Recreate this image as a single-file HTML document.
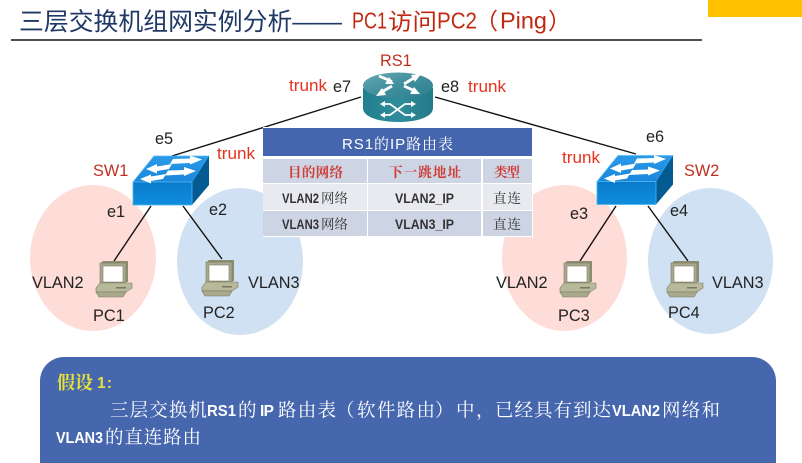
<!DOCTYPE html>
<html lang="zh">
<head>
<meta charset="utf-8">
<title>三层交换机组网实例分析</title>
<style>
html,body{margin:0;padding:0;background:#fff;width:802px;height:463px;overflow:hidden}
svg{display:block;filter:blur(.35px)}
.l{font-family:"Liberation Sans","Noto Sans CJK SC",sans-serif;font-size:16.3px;fill:#222}
.r{fill:#e5321f}
.d{fill:#bf2f22}
.tl{font-family:"Liberation Sans",sans-serif;font-size:13.5px;fill:#333;font-weight:bold}
.c{font-family:"Noto Serif CJK SC","Liberation Serif",serif;font-size:13.5px;fill:#333}
.h{font-family:"Noto Serif CJK SC","Liberation Serif",serif;font-size:13.5px;fill:#cf3b35;font-weight:bold}
.b{font-family:"Noto Serif CJK SC","Liberation Serif",serif;font-size:18.5px;fill:#fff}
.m{font-family:"Liberation Sans",sans-serif;font-size:15.5px;font-weight:bold;fill:#fff}
.ts{font-family:"Liberation Sans","Noto Sans CJK SC",sans-serif;font-size:23px;fill:#c0280f}
</style>
</head>
<body>
<svg width="802" height="463" viewBox="0 0 802 463" xmlns="http://www.w3.org/2000/svg">
<defs>
<linearGradient id="top" x1="0" y1="0" x2="0" y2="1"><stop offset="0" stop-color="#2a9be8"/><stop offset="1" stop-color="#1a86dc"/></linearGradient>
<linearGradient id="fr" x1="0" y1="0" x2="0" y2="1"><stop offset="0" stop-color="#0a7acb"/><stop offset="1" stop-color="#0f8ede"/></linearGradient>
<linearGradient id="rt" x1="0" y1="0" x2="1" y2="0"><stop offset="0" stop-color="#22808e"/><stop offset=".5" stop-color="#2f8d9b"/><stop offset="1" stop-color="#237a88"/></linearGradient>
<linearGradient id="rs" x1="0" y1="0" x2="1" y2="1"><stop offset="0" stop-color="#6aa8b4"/><stop offset=".5" stop-color="#3f8e9c"/><stop offset="1" stop-color="#2c8090"/></linearGradient>
<g id="sw">
<polygon points="0,26 59,26 76,0 21,0" fill="url(#top)" stroke="#5cbcf2" stroke-width=".8"/>
<polygon points="59,26 76,0 76,29 59,49" fill="#045a92"/>
<rect x="0" y="26" width="59" height="23" fill="url(#fr)" stroke="#4fb6ef" stroke-width=".8"/>
<g fill="#fff" stroke="none">
<polygon points="40,3 57,2.500 57,-.5 69,3.500 57,8.500 57,7 37,8"/>
<polygon points="13,13 24,8 24,10.500 39,8 36,13 24,15 24,17.500"/>
<polygon points="35,14.500 51,14 51,11 63,15 51,20 51,18.500 32,19.500"/>
<polygon points="7,23 18,18.500 18,20.500 33,18 30,23 18,25 18,27.500"/>
</g>
</g>
<g id="pc">
<polygon points="4,3 7,0 32,0 32,21 4,21" fill="#8e8e72"/>
<rect x="4" y="2" width="26" height="20" fill="#a9a98e" stroke="#77775f" stroke-width=".6"/>
<rect x="7" y="5" width="20" height="16" fill="#fff" stroke="#7d7d66" stroke-width=".6"/>
<polygon points="0,27 4,22 36,22 36,27 30,31 0,31" fill="#b8b89a" stroke="#7b7b62" stroke-width=".6"/>
<polygon points="0,31 30,31 27,36 3,36" fill="#a9a98c" stroke="#7b7b62" stroke-width=".6"/>
<rect x="20" y="26" width="10" height="1.500" fill="#777760"/>
</g>
</defs>

<!-- title -->
<rect x="708" y="0" width="94" height="17" fill="#ffc000"/>
<text x="19" y="30" textLength="323" lengthAdjust="spacingAndGlyphs" font-family="'Liberation Sans','Noto Sans CJK SC',sans-serif" font-size="24.500" fill="#1f3864">三层交换机组网实例分析——</text>
<text class="ts" x="352" y="28.500" textLength="35" lengthAdjust="spacingAndGlyphs">PC1</text>
<text class="ts" x="388" y="29.500" textLength="49" lengthAdjust="spacingAndGlyphs">访问</text>
<text class="ts" x="437" y="28.500" textLength="40" lengthAdjust="spacingAndGlyphs">PC2</text>
<text class="ts" x="475" y="29">&#xFF08;</text>
<text class="ts" x="500" y="28.500" textLength="47" lengthAdjust="spacingAndGlyphs">Ping</text>
<text class="ts" x="548" y="29">&#xFF09;</text>
<rect x="11" y="39.200" width="691" height="1.600" fill="#222"/>

<!-- VLAN ellipses -->
<ellipse cx="93" cy="258" rx="63" ry="73" fill="#fedcd8"/>
<ellipse cx="240" cy="261.500" rx="63" ry="73.500" fill="#d0e1f4"/>
<ellipse cx="564.500" cy="258" rx="62.500" ry="73" fill="#fedcd8"/>
<ellipse cx="710.500" cy="261" rx="62.500" ry="73" fill="#d0e1f4"/>

<!-- links -->
<g stroke="#111" stroke-width="1.400" fill="none">
<line x1="361" y1="97" x2="172" y2="156"/>
<line x1="435" y1="97" x2="636" y2="154"/>
<line x1="151" y1="206" x2="114" y2="261"/>
<line x1="183" y1="206" x2="222" y2="259"/>
<line x1="616" y1="206" x2="580" y2="261"/>
<line x1="648" y1="206" x2="688" y2="261"/>
</g>

<!-- router -->
<path d="M363 88 V108 C363 117 379 122 398 122 C417 122 433 117 433 108 V88 Z" fill="url(#rt)"/>
<ellipse cx="398" cy="85.500" rx="35" ry="13" fill="url(#rs)"/>
<g stroke="#fff" stroke-width="2.800" fill="none">
<path d="M379 76 L392 81.500"/>
<path d="M417 76 L404 84"/>
<path d="M392 86 L380 93"/>
<path d="M404 86 L416 91.500"/>
</g>
<g fill="#fff">
<polygon points="394,84 385,84 389,77"/>
<polygon points="421,74 411,75 415,82"/>
<polygon points="376,96 386,95 382,88"/>
<polygon points="420,94 410,94 414,87"/>
</g>
<g stroke="#fff" stroke-width="1.800" fill="none">
<path d="M384 104 H390 L405 115 H411 M384 115 H390 L405 104 H411"/>
</g>
<g fill="#fff">
<polygon points="380,104 385,101 385,107"/>
<polygon points="380,115 385,112 385,118"/>
<polygon points="416,104 411,101 411,107"/>
<polygon points="416,115 411,112 411,118"/>
</g>

<!-- switches -->
<use href="#sw" x="133" y="156"/>
<use href="#sw" x="597" y="155.500"/>

<!-- PCs -->
<use href="#pc" x="96" y="261"/>
<use href="#pc" x="202" y="260"/>
<use href="#pc" x="560" y="261"/>
<use href="#pc" x="667" y="261"/>

<!-- labels -->
<text class="l d" x="380" y="66">RS1</text>
<text class="l r" x="289" y="91" textLength="38" lengthAdjust="spacingAndGlyphs">trunk</text>
<text class="l" x="333" y="92">e7</text>
<text class="l" x="441" y="92">e8</text>
<text class="l r" x="468" y="92" textLength="38" lengthAdjust="spacingAndGlyphs">trunk</text>
<text class="l" x="155" y="144">e5</text>
<text class="l" x="646" y="142">e6</text>
<text class="l r" x="217" y="159" textLength="38" lengthAdjust="spacingAndGlyphs">trunk</text>
<text class="l r" x="562" y="163" textLength="38" lengthAdjust="spacingAndGlyphs">trunk</text>
<text class="l d" x="93" y="176">SW1</text>
<text class="l d" x="684" y="176">SW2</text>
<text class="l" x="107" y="217">e1</text>
<text class="l" x="209" y="215">e2</text>
<text class="l" x="570" y="219">e3</text>
<text class="l" x="670" y="216">e4</text>
<text class="l" x="32" y="288">VLAN2</text>
<text class="l" x="248" y="288">VLAN3</text>
<text class="l" x="496" y="288">VLAN2</text>
<text class="l" x="712" y="288">VLAN3</text>
<text class="l" x="93" y="321">PC1</text>
<text class="l" x="203" y="318">PC2</text>
<text class="l" x="558" y="321">PC3</text>
<text class="l" x="668" y="318">PC4</text>

<!-- table -->
<rect x="263" y="127" width="270" height="110" fill="#fff"/>
<rect x="263" y="128" width="269" height="28" fill="#4566ae"/>
<rect x="263" y="159" width="104" height="24" fill="#cdd4e3"/>
<rect x="368" y="159" width="113" height="24" fill="#cdd4e3"/>
<rect x="483" y="159" width="49" height="24" fill="#cdd4e3"/>
<rect x="263" y="184" width="104" height="26" fill="#e8eaf0"/>
<rect x="368" y="184" width="113" height="26" fill="#e8eaf0"/>
<rect x="483" y="184" width="49" height="26" fill="#e8eaf0"/>
<rect x="263" y="211" width="104" height="25" fill="#cdd4e3"/>
<rect x="368" y="211" width="113" height="25" fill="#cdd4e3"/>
<rect x="483" y="211" width="49" height="25" fill="#cdd4e3"/>
<text x="342" y="149" textLength="111" font-family="'Liberation Sans','Noto Serif CJK SC',serif" font-size="15" fill="#fff">RS1的IP路由表</text>
<text class="h" x="288" y="177" textLength="55">目的网络</text>
<text class="h" x="389" y="177" textLength="72">下一跳地址</text>
<text class="h" x="494" y="177" textLength="26">类型</text>
<text class="tl" x="282" y="203" textLength="37" lengthAdjust="spacingAndGlyphs">VLAN2</text>
<text class="c" x="321" y="203" textLength="27">网络</text>
<text class="tl" x="395" y="203" textLength="59" lengthAdjust="spacingAndGlyphs">VLAN2_IP</text>
<text class="c" x="493" y="203" textLength="28">直连</text>
<text class="tl" x="282" y="229" textLength="37" lengthAdjust="spacingAndGlyphs">VLAN3</text>
<text class="c" x="321" y="229" textLength="27">网络</text>
<text class="tl" x="395" y="229" textLength="59" lengthAdjust="spacingAndGlyphs">VLAN3_IP</text>
<text class="c" x="493" y="229" textLength="28">直连</text>

<!-- assumption box -->
<path d="M40 463 V381 A24 24 0 0 1 64 357 H752 A24 24 0 0 1 776 381 V463 Z" fill="#4667ae"/>
<text x="57" y="389" textLength="36" font-family="'Noto Serif CJK SC',serif" font-size="18" font-weight="bold" fill="#e6e23c">假设</text>
<text x="97" y="388" font-family="'Liberation Sans',sans-serif" font-size="15.500" font-weight="bold" fill="#e6e23c" textLength="15">1:</text>

<text class="b" x="110" y="416.500" textLength="97">三层交换机</text>
<text class="m" x="207" y="416" textLength="29" lengthAdjust="spacingAndGlyphs">RS1</text>
<text class="b" x="238" y="416.500">的</text>
<text class="m" x="260" y="416" textLength="14">IP</text>
<text class="b" x="278" y="416.500" textLength="58">路由表</text>
<text class="b" x="336" y="416.500">&#xFF08;</text>
<text class="b" x="357" y="416.500" textLength="78">软件路由</text>
<text class="b" x="435" y="416.500">&#xFF09;</text>
<text class="b" x="456" y="416.500">中</text>
<text class="b" x="476" y="416.500">&#xFF0C;</text>
<text class="b" x="495" y="416.500" textLength="116">已经具有到达</text>
<text class="m" x="612" y="416" textLength="48" lengthAdjust="spacingAndGlyphs">VLAN2</text>
<text class="b" x="662" y="416.500" textLength="58">网络和</text>

<text class="m" x="56" y="443" textLength="47" lengthAdjust="spacingAndGlyphs">VLAN3</text>
<text class="b" x="105" y="443.500" textLength="96">的直连路由</text>
</svg>
</body>
</html>
